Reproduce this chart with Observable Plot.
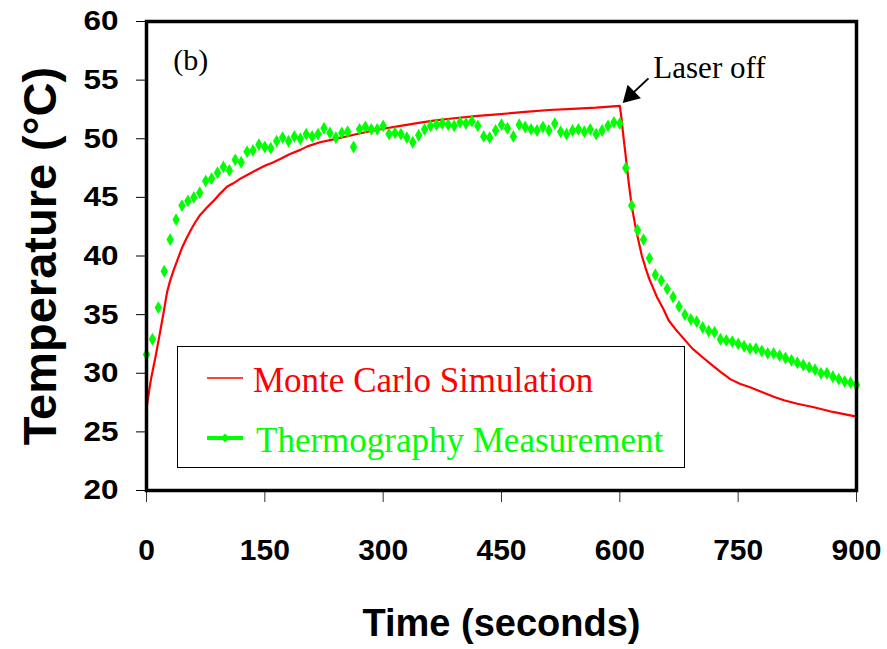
<!DOCTYPE html>
<html><head><meta charset="utf-8">
<script src="https://cdn.jsdelivr.net/npm/d3@7"></script>
<script src="https://cdn.jsdelivr.net/npm/@observablehq/plot@0.6"></script>
<style>
html,body{margin:0;padding:0;background:#fff;}
#wrap{position:relative;width:887px;height:649px;background:#fff;}
#legend{position:absolute;left:177px;top:346px;}
</style>
</head><body><div id="wrap"></div>
<script>
// ---- tick labels ----
const xTicks = [0, 150, 300, 450, 600, 750, 900];
const yTicks = [20, 25, 30, 35, 40, 45, 50, 55, 60];

// ---- series names / colours ----
const seriesNames = ["Monte Carlo Simulation", "Thermography Measurement"];
const seriesColors = ["#FF0000", "#00FF00"];

// ---- Monte Carlo simulation (red line) ----
const simTime = [0, 2, 4, 6, 9, 12, 15, 18, 22, 26, 30, 35, 40, 45, 50, 56, 62, 68, 76, 85, 93, 102, 110, 119, 130, 140, 150, 161, 172, 182, 195, 204, 220, 237, 260, 280, 300, 322, 345, 364, 390, 420, 449, 480, 510, 540, 570, 600,
  602, 604, 607, 611, 615, 619, 623, 628, 633, 637, 642, 647, 655, 662, 670, 679, 692, 706, 715, 728, 740, 752, 765, 780, 795, 808, 825, 846, 870, 900];
const simTemp = [27.0, 27.9, 28.8, 29.6, 30.6, 31.6, 32.7, 33.8, 35.3, 36.9, 37.9, 38.9, 39.8, 40.7, 41.4, 42.2, 42.9, 43.5, 44.1, 44.7, 45.3, 45.9, 46.2, 46.6, 47.0, 47.35, 47.7, 48.0, 48.35, 48.7, 49.05, 49.35, 49.7, 49.95, 50.3, 50.6, 50.85, 51.1, 51.35, 51.55, 51.75, 51.95, 52.1, 52.3, 52.45, 52.55, 52.65, 52.8,
  51.8, 50.5, 48.8, 46.4, 44.3, 42.8, 41.5, 40.0, 38.9, 38.1, 37.3, 36.5, 35.5, 34.5, 33.8, 33.1, 32.1, 31.3, 30.8, 30.1, 29.5, 29.1, 28.8, 28.4, 28.0, 27.7, 27.4, 27.1, 26.7, 26.3];

// ---- Thermography measurement (green diamonds) ----
const measTime = [0, 7.5, 15, 22.5, 30, 37.5, 45, 52.5, 60, 67.5, 75, 82.5, 90, 97.5, 105, 112.5, 120, 127.5, 135, 142.5,
  150, 157.5, 165, 172.5, 180, 187.5, 195, 202.5, 210, 217.5, 225, 232.5, 240, 247.5, 255, 262.5, 270, 277.5, 285, 292.5,
  300, 307.5, 315, 322.5, 330, 337.5, 345, 352.5, 360, 367.5, 375, 382.5, 390, 397.5, 405, 412.5, 420, 427.5, 435, 442.5,
  450, 457.5, 465, 472.5, 480, 487.5, 495, 502.5, 510, 517.5, 525, 532.5, 540, 547.5, 555, 562.5, 570, 577.5, 585, 592.5,
  600, 607.5, 615, 622.5, 630, 637.5, 645, 652.5, 660, 667.5, 675, 682.5, 690, 697.5, 705, 712.5, 720, 727.5, 735, 742.5,
  750, 757.5, 765, 772.5, 780, 787.5, 795, 802.5, 810, 817.5, 825, 832.5, 840, 847.5, 855, 862.5, 870, 877.5, 885, 892.5, 900];
const measTemp = [31.6, 32.9, 35.6, 38.7, 41.4, 43.1, 44.3, 44.7, 45.0, 45.4, 46.4, 46.6, 47.1, 47.6, 47.3, 48.2, 48.0, 48.9, 49.0, 49.5,
  49.3, 49.2, 49.8, 50.1, 49.8, 50.2, 50.0, 50.4, 50.2, 50.4, 50.9, 50.5, 50.1, 50.5, 50.6, 49.3, 50.8, 51.0, 50.8, 50.8,
  51.1, 50.4, 50.5, 50.4, 50.1, 49.7, 50.3, 50.8, 51.1, 51.2, 51.3, 51.2, 51.1, 51.4, 51.3, 51.5, 51.1, 50.2, 50.1, 50.7,
  51.2, 50.9, 50.2, 51.2, 51.0, 50.8, 50.7, 51.0, 50.7, 51.3, 50.6, 50.4, 50.7, 50.8, 50.6, 50.8, 50.4, 50.7, 51.1, 51.4,
  51.3, 47.5, 44.3, 42.2, 41.4, 39.8, 38.4, 37.9, 37.2, 36.5, 35.7, 35.0, 34.6, 34.4, 33.9, 33.6, 33.5, 32.9, 32.8, 32.7,
  32.5, 32.3, 32.1, 32.1, 31.9, 31.7, 31.7, 31.5, 31.3, 31.1, 30.9, 30.7, 30.5, 30.3, 30.0, 30.0, 29.7, 29.5, 29.3, 29.2, 29.0];

// ---- annotations (data units) ----
const panelLabel = [{t: 34, T: 55.9, text: "(b)"}];
const laserLabel = [{t: 642.5, T: 55.15, text: "Laser off"}];
const arrowShaft = [{t1: 636.3, T1: 55.15, t2: 613.4, T2: 53.7}];
const arrowHead = [{t: 613.4, T: 53.7}];

const sim = simTime.map((t, i) => ({t, T: simTemp[i]}));
const meas = measTime.map((t, i) => ({t, T: measTemp[i]}));

const SANS = "'Liberation Sans', Arial, sans-serif";
const SERIF = "'Liberation Serif', 'Times New Roman', serif";

const chart = Plot.plot({
  width: 887,
  height: 649,
  marginLeft: 146,
  marginRight: 31,
  marginTop: 21,
  marginBottom: 159,
  style: {background: "#fff", fontFamily: SANS, color: "#000", overflow: "visible"},
  x: {domain: [0, 900]},
  y: {domain: [20, 60]},
  marks: [
    Plot.axisX({ticks: xTicks, tickSize: 12, tickPadding: 36, fontSize: 30, fontWeight: "bold", label: null, tickFormat: d => String(d), stroke: "#333", fill: "#000"}),
    Plot.axisY({ticks: yTicks, tickSize: 10, tickPadding: 18, fontSize: 28, fontWeight: "bold", label: null, tickFormat: d => String(d), stroke: "#000", fill: "#000"}),
    Plot.line(sim, {x: "t", y: "T", stroke: seriesColors[0], strokeWidth: 2.2}),
    Plot.dot(meas, {x: "t", y: "T", symbol: "diamond", r: 3.9, fill: seriesColors[1], stroke: "none"}),
    Plot.frame({stroke: "#000", strokeWidth: 3.5}),
    Plot.text(panelLabel, {x: "t", y: "T", text: "text", textAnchor: "start", lineAnchor: "bottom", fontSize: 30, fontFamily: SERIF, fill: "#000"}),
    Plot.text(laserLabel, {x: "t", y: "T", text: "text", textAnchor: "start", lineAnchor: "bottom", fontSize: 31, fontFamily: SERIF, fill: "#000"}),
    Plot.link(arrowShaft, {x1: "t1", y1: "T1", x2: "t2", y2: "T2", stroke: "#000", strokeWidth: 2}),
    Plot.dot(arrowHead, {x: "t", y: "T", symbol: "triangle", r: 7, rotate: 225, fill: "#000", stroke: "none"}),
    Plot.text(["Time (seconds)"], {frameAnchor: "bottom", dy: 145, text: d => d, textAnchor: "middle", lineAnchor: "bottom", fontSize: 38, fontWeight: "bold", fontFamily: SANS, fill: "#000", ariaLabel: "x-title"}),
    Plot.text(["Temperature (°C)"], {frameAnchor: "left", dx: -91, rotate: -90, text: d => d, textAnchor: "middle", lineAnchor: "bottom", fontSize: 47, fontWeight: "bold", fontFamily: SANS, fill: "#000", ariaLabel: "y-title"})
  ]
});

const svg = d3.select(chart);
svg.selectAll('g[aria-label="y-axis tick label"] text').attr("textLength", 35).attr("lengthAdjust", "spacingAndGlyphs");
svg.selectAll('g[aria-label="x-title"] text').attr("textLength", 361).attr("lengthAdjust", "spacingAndGlyphs");
svg.selectAll('g[aria-label="y-title"] text').attr("textLength", 392).attr("lengthAdjust", "spacingAndGlyphs");

const wrap = document.getElementById("wrap");
wrap.appendChild(chart);

// ---- legend (overlay inside plot area) ----
const leg = d3.create("svg").attr("id", "legend").attr("width", 509).attr("height", 123);
leg.append("rect").attr("x", 0.5).attr("y", 0.5).attr("width", 507).attr("height", 121).attr("fill", "#fff").attr("stroke", "#000").attr("stroke-width", 1);
const rows = [
  {name: seriesNames[0], color: seriesColors[0], y: 32, ty: 46, tx: 76, w: 1.3, marker: false},
  {name: seriesNames[1], color: seriesColors[1], y: 92, ty: 106, tx: 79, w: 4, marker: true}
];
rows.forEach(r => {
  leg.append("line").attr("x1", 30).attr("x2", 66).attr("y1", r.y).attr("y2", r.y).attr("stroke", r.color).attr("stroke-width", r.w);
  if (r.marker) leg.append("path").attr("d", `M48,${r.y - 4.5}L52.5,${r.y}L48,${r.y + 4.5}L43.5,${r.y}Z`).attr("fill", r.color);
  leg.append("text").attr("x", r.tx).attr("y", r.ty).attr("fill", r.color).attr("font-family", SERIF).attr("font-size", 35).text(r.name);
});
wrap.appendChild(leg.node());
</script>
</body></html>
